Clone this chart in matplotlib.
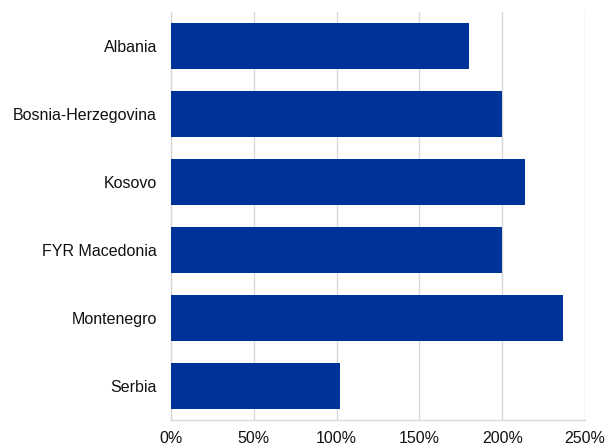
import matplotlib
matplotlib.use("Agg")
import matplotlib.pyplot as plt
from matplotlib.ticker import FuncFormatter

countries = ["Albania", "Bosnia-Herzegovina", "Kosovo", "FYR Macedonia", "Montenegro", "Serbia"]
values = [180, 200, 214, 200, 237, 102]
xticks = [0, 50, 100, 150, 200, 250]

plt.rcParams['font.family'] = ['Liberation Sans', 'DejaVu Sans']

fig = plt.figure(figsize=(6.08, 4.46), dpi=100)
ax = fig.add_axes([171/608, 1-420/446, (585-171)/608, (420-12)/446])

y = list(range(len(countries)))
ax.barh(y, values, height=0.67, color='#003399', edgecolor='none', zorder=3)
ax.set_ylim(len(countries)-0.5, -0.5)
ax.set_xlim(0, 250)
ax.set_yticks(y)
ax.set_yticklabels(countries, fontsize=11.5, color='#111111')
ax.set_xticks(xticks)
ax.xaxis.set_major_formatter(FuncFormatter(lambda v, p: f"{int(v)}%"))
ax.tick_params(axis='x', labelsize=11.5, colors='#111111', length=0, pad=8)
ax.tick_params(axis='y', length=0, pad=10)
ax.grid(axis='x', color='#d9d9d9', linewidth=1, zorder=0)
for s in ['top', 'right']:
    ax.spines[s].set_visible(False)
for s in ['left', 'bottom']:
    ax.spines[s].set_color('#d9d9d9')
    ax.spines[s].set_linewidth(1)

fig.savefig("out.png", dpi=100)
